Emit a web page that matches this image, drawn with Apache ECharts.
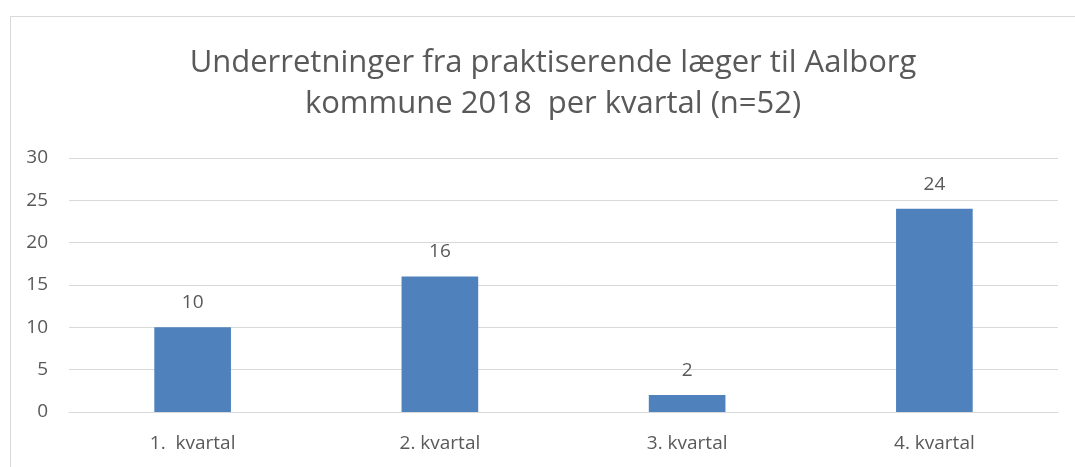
<!DOCTYPE html>
<html>
<head>
<meta charset="utf-8">
<script src="https://cdn.jsdelivr.net/npm/echarts@6/dist/echarts.min.js"></script>
<style>
  html, body { margin: 0; padding: 0; background: #fff; }
  #chart { width: 1075px; height: 467px; }
</style>
</head>
<body>
<div id="chart"></div>
<script>
// data
var quarters = ['1.  kvartal', '2. kvartal', '3. kvartal', '4. kvartal'];
var counts = [10, 16, 2, 24];
var yTicks = [0, 5, 10, 15, 20, 25, 30];

var textGray = '#595959';
var font = '"Open Sans", "DejaVu Sans", sans-serif';

var myChart = echarts.init(document.getElementById('chart'));

var option = {
  backgroundColor: '#fff',
  animation: false,
  title: {
    text: 'Underretninger fra praktiserende læger til Aalborg\nkommune 2018  per kvartal (n=52)',
    left: 548,
    textAlign: 'center',
    top: 38,
    textStyle: {
      color: textGray,
      fontFamily: font,
      fontWeight: 'normal',
      fontSize: 31,
      lineHeight: 41
    }
  },
  graphic: [
    {
      // outer chart frame, cut off at right and bottom
      type: 'rect',
      left: 8,
      top: 14,
      shape: { width: 1100, height: 500 },
      style: { fill: 'none', stroke: '#d9d9d9', lineWidth: 1 },
      silent: true
    }
  ],
  grid: {
    left: 69,
    right: 17,
    top: 158,
    bottom: 55
  },
  xAxis: {
    type: 'category',
    data: quarters,
    axisLine: { lineStyle: { color: '#d9d9d9', width: 1 } },
    axisTick: { show: false },
    axisLabel: {
      color: textGray,
      fontFamily: font,
      fontSize: 19,
      margin: 22
    }
  },
  yAxis: {
    type: 'value',
    min: yTicks[0],
    max: yTicks[yTicks.length - 1],
    interval: 5,
    axisLine: { show: false },
    axisTick: { show: false },
    splitLine: { lineStyle: { color: '#d9d9d9', width: 1 } },
    axisLabel: {
      color: textGray,
      fontFamily: font,
      fontSize: 19,
      margin: 21
    }
  },
  series: [
    {
      type: 'bar',
      data: counts,
      barWidth: '31%',
      itemStyle: { color: '#4f81bd' },
      label: {
        show: true,
        position: 'top',
        distance: 15,
        color: textGray,
        fontFamily: font,
        fontSize: 19
      }
    }
  ]
};

option && myChart.setOption(option);
</script>
</body>
</html>
